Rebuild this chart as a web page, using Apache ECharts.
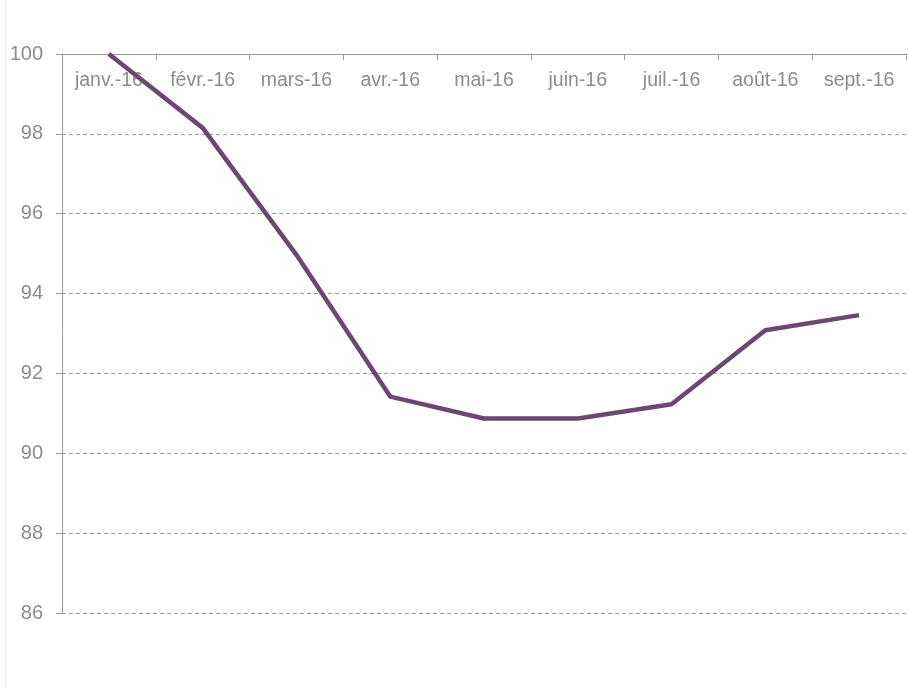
<!DOCTYPE html>
<html>
<head>
<meta charset="utf-8">
<script src="https://cdn.jsdelivr.net/npm/echarts@6/dist/echarts.min.js"></script>
<style>
html,body{margin:0;padding:0;background:#fff;}
#c{width:909px;height:689px;}
</style>
</head>
<body>
<div id="c"></div>
<script>
const categories = ['janv.-16','févr.-16','mars-16','avr.-16','mai-16','juin-16','juil.-16','août-16','sept.-16'];
const values = [100, 98.15, 94.97, 91.42, 90.87, 90.87, 91.23, 93.08, 93.46];
const yMin = 86, yMax = 100, yStep = 2;

const chart = echarts.init(document.getElementById('c'));
chart.setOption({
  animation: false,
  backgroundColor: '#fff',
  grid: {left: 62, right: 3, top: 54, bottom: 76, containLabel: false},
  graphic: [{type: 'line', shape: {x1: 5.5, y1: 0, x2: 5.5, y2: 689}, style: {stroke: '#f2f2f2', lineWidth: 1}}],
  xAxis: {
    type: 'category',
    data: categories,
    position: 'top',
    boundaryGap: true,
    axisLine: {show: true, lineStyle: {color: '#9a9a9a', width: 1}},
    axisTick: {show: true, inside: true, length: 6, alignWithLabel: false, lineStyle: {color: '#9a9a9a'}},
    axisLabel: {inside: true, margin: 17, color: '#8c8c8c', fontSize: 19.5, fontFamily: 'Liberation Sans, Arial, sans-serif', interval: 0},
    splitLine: {show: false}
  },
  yAxis: {
    type: 'value',
    min: yMin, max: yMax, interval: yStep,
    axisLine: {show: true, lineStyle: {color: '#9a9a9a', width: 1}},
    axisTick: {show: true, length: 6, lineStyle: {color: '#9a9a9a'}},
    axisLabel: {margin: 19, color: '#8c8c8c', fontSize: 20, fontFamily: 'Liberation Sans, Arial, sans-serif'},
    splitLine: {show: true, lineStyle: {color: '#9a9a9a', type: [4, 3], width: 1}}
  },
  series: [{
    type: 'line',
    data: values,
    symbol: 'none',
    lineStyle: {color: '#6b4873', width: 4.5},
    itemStyle: {color: '#6b4873'}
  }]
});
</script>
</body>
</html>
